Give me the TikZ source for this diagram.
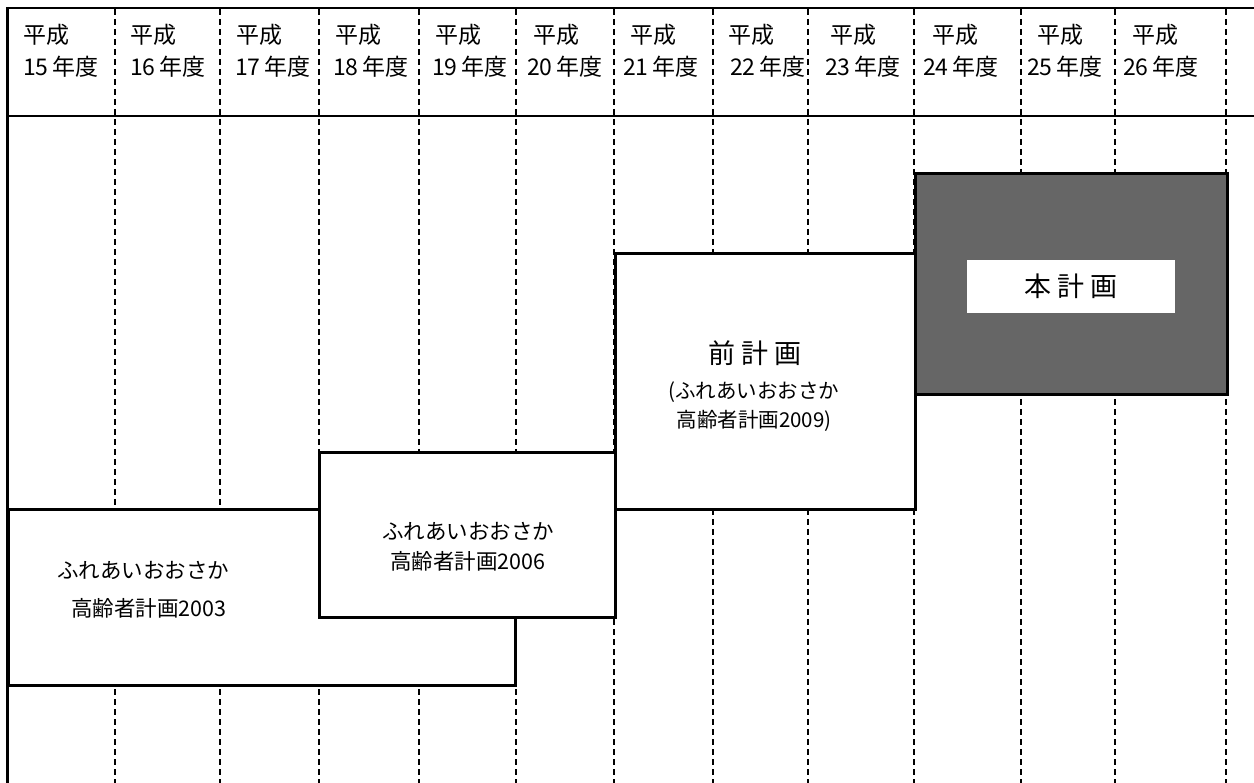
\documentclass[tikz,border=0pt]{standalone}
\usepackage{fontspec}
\setmainfont{Noto Sans CJK JP}
\begin{document}
\begin{tikzpicture}[x=1pt,y=-1pt,
  frameline/.style={line width=2.2pt},
  colline/.style={line width=1.6pt, dash pattern=on 6pt off 4pt},
  planbox/.style={draw, line width=3pt, fill=white, anchor=north west, inner sep=0pt},
  hdr/.style={anchor=west, inner sep=0pt, font=\fontsize{23}{26}\selectfont},
  boxtxt/.style={align=center, inner sep=0pt, font=\fontsize{21.5}{30}\selectfont},
  bigtxt/.style={inner sep=0pt, font=\fontsize{27}{30}\selectfont},
]
\useasboundingbox (0,0) rectangle (1254,783);
\fill[white] (0,0) rectangle (1254,783);
% column separators
\foreach \x in {115,220,319,419,516,614,713,808,914,1021,1115,1226} {
  \draw[colline] (\x,9) -- (\x,783);
}
% plan boxes
\node[planbox, minimum width=507pt, minimum height=176pt] (p2003) at (7,508) {};
\node[planbox, minimum width=296pt, minimum height=165pt] (p2006) at (318,451) {};
\node[planbox, minimum width=300pt, minimum height=256pt] (p2009) at (614,252) {};
\node[planbox, fill=black!60, minimum width=312pt, minimum height=221pt] (phon) at (914,172) {};
% box texts
\node[boxtxt, anchor=west] (t2003a) at (57,570) {ふれあいおおさか};
\node[boxtxt, anchor=west] (t2003b) at (71,608) {高齢者計画2003};
\node[boxtxt] (t2006) at (468,547) {ふれあいおおさか\\高齢者計画2006};
\node[bigtxt] (t2009a) at (755,353) {前\hspace{6pt}計\hspace{6pt}画};
\node[boxtxt, font=\fontsize{20.5}{29}\selectfont] (t2009b) at (754,407) {(ふれあいおおさか\\高齢者計画2009)};
\node[fill=white, minimum width=208pt, minimum height=53pt, inner sep=0pt] (honlabel) at (1071,286.5) {};
\node[bigtxt] (thon) at (honlabel) {本\hspace{6pt}計\hspace{6pt}画};
% frame
\draw[frameline] (7,8) -- (1254,8);
\draw[frameline] (7,116) -- (1254,116);
\draw[line width=3pt] (7,7) -- (7,783);
% header labels
\foreach \hx/\yx/\n in {23/23/15, 130/130/16, 236/235/17, 335/333/18, 435/432/19, 533/527/20, 630/623/21, 728/730/22, 830/825/23, 932/923/24, 1037/1027/25, 1132/1123/26} {
  \node[hdr] (h\n) at (\hx,35) {平成};
  \node[hdr] (y\n) at (\yx,67) {\n\hspace{4pt}年度};
}
\end{tikzpicture}
\end{document}
